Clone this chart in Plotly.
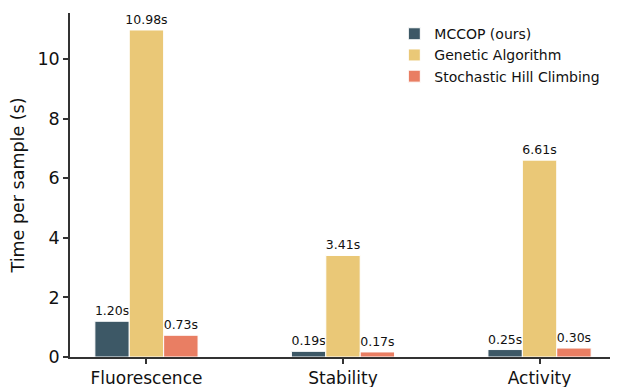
import plotly.graph_objects as go

categories = ["Fluorescence", "Stability", "Activity"]
series_names = ["MCCOP (ours)", "Genetic Algorithm", "Stochastic Hill Climbing"]
mccop = [1.20, 0.19, 0.25]
genetic = [10.98, 3.41, 6.61]
hill = [0.73, 0.17, 0.30]
colors = ["#3d5866", "#eac877", "#e97e63"]
y_ticks = [0, 2, 4, 6, 8, 10]

FONT = "DejaVu Sans"
fig = go.Figure()
for name, vals, col in zip(series_names, [mccop, genetic, hill], colors):
    fig.add_trace(go.Bar(
        x=categories, y=vals, name=name,
        marker=dict(color=col, line=dict(color="white", width=1)),
        text=[f"{v:.2f}s" for v in vals], textposition="outside",
        textfont=dict(family=FONT, size=12.5, color="#111"),
        constraintext="none",
        cliponaxis=False,
    ))

# page body has an 8px default margin, so the figure is sized 8px smaller
fig.update_layout(
    width=610, height=379,
    margin=dict(l=62, r=2, t=5, b=30),
    barmode="group", bargap=0.475, bargroupgap=0,
    plot_bgcolor="white", paper_bgcolor="white",
    font=dict(family=FONT, color="#111"),
    showlegend=True,
    legend=dict(x=0.594, y=0.985, xanchor="left", yanchor="top",
                font=dict(family=FONT, size=14, color="#111"),
                bgcolor="rgba(0,0,0,0)", tracegroupgap=0),
)
fig.update_xaxes(
    range=[-0.389, 2.389], showline=True, linecolor="#333", linewidth=1.5,
    ticks="outside", ticklen=5, tickwidth=1.5, tickcolor="#333",
    tickfont=dict(family=FONT, size=17, color="#111"), showgrid=False,
    automargin=False,
)
fig.update_yaxes(
    range=[0, 11.55], tickvals=y_ticks, showline=True, linecolor="#333", linewidth=1.5,
    ticks="outside", ticklen=5, tickwidth=1.5, tickcolor="#333",
    tickfont=dict(family=FONT, size=17.5, color="#111"), showgrid=False, zeroline=False,
    title=dict(text="Time per sample (s)", font=dict(family=FONT, size=17.5, color="#111"), standoff=8),
    automargin=False,
)
fig.write_html("out.html")
